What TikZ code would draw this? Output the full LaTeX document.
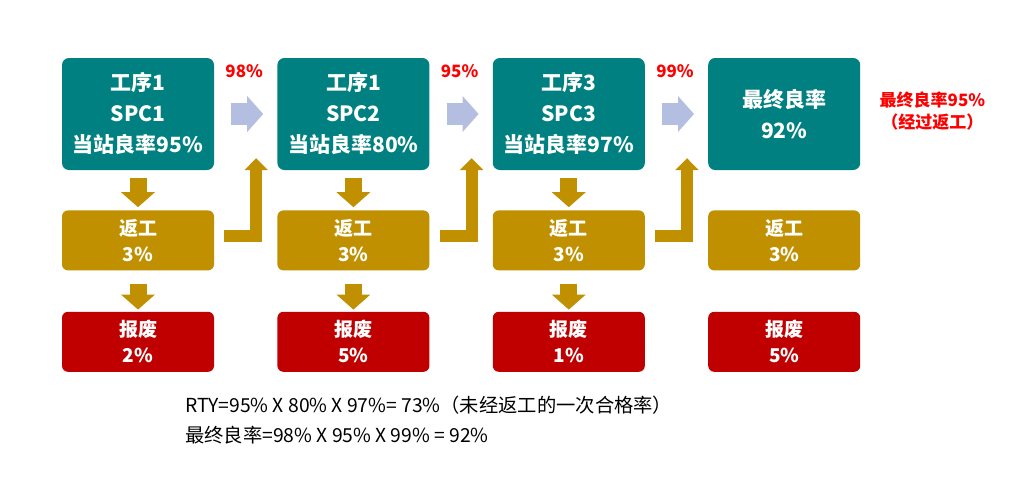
\documentclass[tikz,border=0pt]{standalone}
\usepackage{fontspec}
\setmainfont{Noto Sans CJK SC}
\usepackage{tikz}
\usetikzlibrary{positioning,arrows.meta}
\definecolor{tealbox}{RGB}{0,128,128}
\definecolor{goldbox}{RGB}{192,144,0}
\definecolor{redbox}{RGB}{192,0,0}
\definecolor{bluearrow}{RGB}{180,190,224}
\definecolor{redtext}{RGB}{255,0,0}
\tikzset{yield node/.style={rectangle,rounded corners=7pt,fill=tealbox,text=white,minimum width=152pt,minimum height=112pt,inner sep=0pt,align=center,font=\fontsize{21}{31}\selectfont\bfseries},
         rework node/.style={rectangle,rounded corners=6pt,fill=goldbox,text=white,minimum width=152pt,minimum height=60pt,inner sep=0pt,align=center,font=\fontsize{19}{26}\selectfont\bfseries},
         scrap node/.style={rework node,fill=redbox},
         pct node/.style={text=redtext,font=\fontsize{17}{22}\selectfont\bfseries,inner sep=0pt,align=center},
         down arrow/.style={draw=goldbox,line width=17pt,-{Triangle[width=33pt,length=15pt]}},
         back arrow/.style={draw=goldbox,line width=12pt,line join=miter,-{Triangle[width=23pt,length=12pt]}},
         pass arrow/.style={draw=bluearrow,line width=22pt,-{Triangle[width=35pt,length=16pt]},shorten <=17pt,shorten >=14pt},
            }

\begin{document}
\begin{tikzpicture}[x=1pt,y=-1pt]
    \useasboundingbox[fill=white] (0,0) rectangle (1027,485);
    \node[yield node] (t1) at (138,114) {工序1\\SPC1\\当站良率95\%};
    \node[yield node] (t2) [right =63pt of t1] {工序1\\SPC2\\当站良率80\%};
    \node[yield node] (t3) [right =63pt of t2] {工序3\\SPC3\\当站良率97\%};
    \node[yield node] (t4) [right =63pt of t3] {最终良率\\92\%};
    \node[rework node] (g1) [below =40pt of t1] {返工\\3\%};
    \node[rework node] (g2) [below =40pt of t2] {返工\\3\%};
    \node[rework node] (g3) [below =40pt of t3] {返工\\3\%};
    \node[rework node] (g4) [below =40pt of t4] {返工\\3\%};
    \node[scrap node] (r1) [below =41pt of g1] {报废\\2\%};
    \node[scrap node] (r2) [below =41pt of g2] {报废\\5\%};
    \node[scrap node] (r3) [below =41pt of g3] {报废\\1\%};
    \node[scrap node] (r4) [below =41pt of g4] {报废\\5\%};

    \node[pct node] (p1) at ([xshift=30pt,yshift=-13pt]t1.north east) {98\%};
    \node[pct node] (p2) at ([xshift=30pt,yshift=-13pt]t2.north east) {95\%};
    \node[pct node] (p3) at ([xshift=30pt,yshift=-13pt]t3.north east) {99\%};
    \node[pct node] (final) at ([xshift=72pt,yshift=3pt]t4.east) {最终良率95\%\\（经过返工）};

    \node[anchor=west,inner sep=0pt,font=\fontsize{19.3}{30}\selectfont,align=left] (rty) at (185,420)
        {RTY=95\% X 80\% X 97\%= 73\%（未经返工的一次合格率）\\最终良率=98\% X 95\% X 99\% = 92\%};

    \foreach \i in {1,2,3}{
        \draw[down arrow,shorten <=8pt,shorten >=3pt] (t\i) -- (g\i);
        \draw[down arrow,shorten <=13pt,shorten >=2pt] (g\i) -- (r\i);
        \coordinate (up\i) at ([xshift=42pt,yshift=12pt]t\i.south east);
        \draw[back arrow] ([xshift=10pt,yshift=4pt]g\i.east) -| (up\i);
    }
    \draw[pass arrow] (t1) -- (t2);
    \draw[pass arrow] (t2) -- (t3);
    \draw[pass arrow] (t3) -- (t4);
    %%
\end{tikzpicture}
\end{document}
